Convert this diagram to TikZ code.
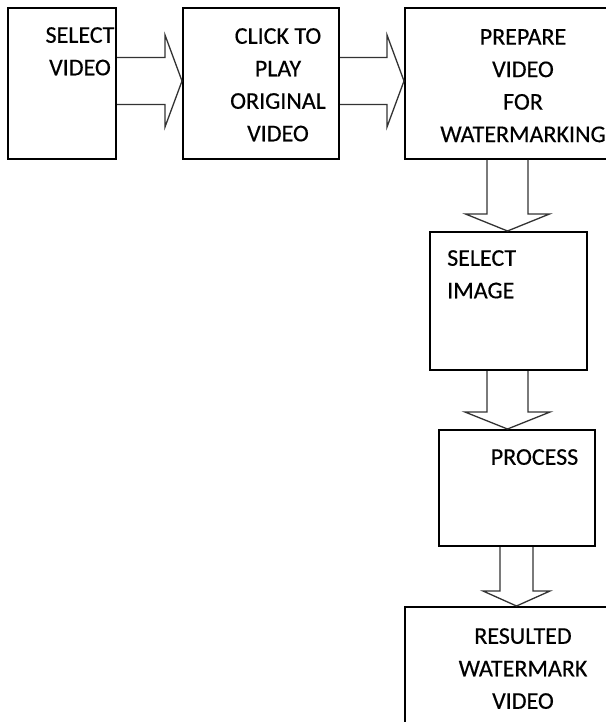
\documentclass[tikz,border=0pt]{standalone}
\usepackage{fontspec}
\setmainfont[FakeBold=0.4]{Carlito}
\usetikzlibrary{calc}
\tikzset{
  box/.style={draw=black, line width=2pt, inner sep=0pt, fill=none},
  txt/.style={inner sep=0pt, font=\fontsize{24}{32.5}\selectfont, text=black},
  blk/.style={draw=black!80, line width=1.3pt, line join=miter},
}
% horizontal block arrow: #1 from, #2 to, #3 centre shift, #4 shaft half, #5 head half, #6 head length
\newcommand\hblock[6]{%
  \draw[blk] ([yshift=#3+#4]#1.east) -- ([xshift=-#6, yshift=#3+#4]#2.west)
    -- ([xshift=-#6, yshift=#3+#5]#2.west) -- ([yshift=#3]#2.west)
    -- ([xshift=-#6, yshift=#3-#5]#2.west) -- ([xshift=-#6, yshift=#3-#4]#2.west)
    -- ([yshift=#3-#4]#1.east);}
% vertical block arrow: #1 from, #2 to, #3 x shift from #1.south, #4 shaft half, #5 head half, #6 head length
\newcommand\vblock[6]{%
  \coordinate (vs) at ([xshift=#3]#1.south);
  \coordinate (ve) at (vs |- #2.north);
  \draw[blk] ([xshift=-#4]vs) -- ([xshift=-#4, yshift=#6]ve)
    -- ([xshift=-#5, yshift=#6]ve) -- (ve)
    -- ([xshift=#5, yshift=#6]ve) -- ([xshift=#4, yshift=#6]ve)
    -- ([xshift=#4]vs);}
\begin{document}
\begin{tikzpicture}[x=1pt, y=-1pt]
\useasboundingbox (0,0) rectangle (605,722);
\fill[white] (0,0) rectangle (605,722);
% boxes
\node[box, minimum width=108pt, minimum height=151pt] (b1) at (62,83.5) {};
\node[box, minimum width=156pt, minimum height=151pt] (b2) at (261,83.5) {};
\node[box, minimum width=215pt, minimum height=151pt] (b3) at (512.5,83.5) {};
\node[box, minimum width=157pt, minimum height=138pt] (b4) at (508.5,301) {};
\node[box, minimum width=156pt, minimum height=116pt] (b5) at (517,488) {};
\node[box, minimum width=215pt, minimum height=133pt] (b6) at (512.5,673.5) {};
% texts
\node[txt, align=center, anchor=north] (t1) at (80,27) {SELECT\\VIDEO};
\node[txt, align=center, anchor=north] (t2) at (278,28) {CLICK TO\\PLAY\\ORIGINAL\\VIDEO};
\node[txt, align=center, anchor=north] (t3) at (523,29) {PREPARE\\VIDEO\\FOR\\WATERMARKING};
\node[txt, align=left, anchor=north west] (t4) at (447,250) {SELECT\\IMAGE};
\node[txt, align=center, anchor=north] (t5) at (534.5,449) {PROCESS};
\node[txt, align=center, anchor=north] (t6) at (523,628) {RESULTED\\WATERMARK\\VIDEO};
% arrows
\hblock{b1}{b2}{2.5pt}{23.5pt}{46pt}{17pt}
\hblock{b2}{b3}{2.5pt}{23.5pt}{46pt}{17pt}
\vblock{b3}{b4}{-5pt}{20.5pt}{42pt}{17pt}
\vblock{b4}{b5}{-1pt}{20.5pt}{42.5pt}{17pt}
\vblock{b5}{b6}{-0.5pt}{16.5pt}{33.5pt}{15pt}
\end{tikzpicture}
\end{document}
